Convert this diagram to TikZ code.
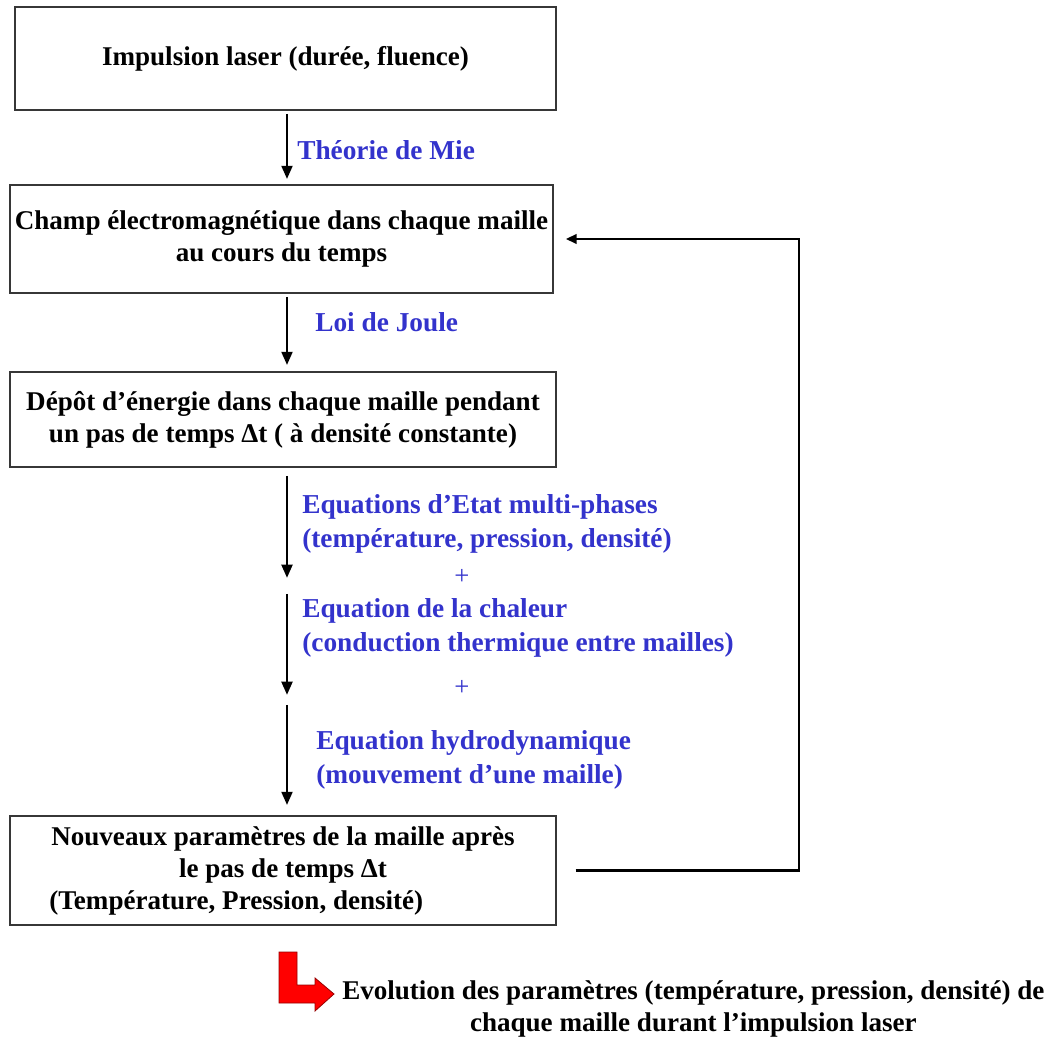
\documentclass[tikz,border=0pt]{standalone}
\usepackage{fontspec}
\setmainfont{Liberation Serif}
\usetikzlibrary{arrows.meta}
\definecolor{lblblue}{RGB}{51,51,204}
\definecolor{boxgray}{RGB}{55,55,55}
\definecolor{darkred}{RGB}{150,0,0}
\begin{document}
\begin{tikzpicture}[x=0.75pt,y=-0.75pt,
  box/.style={draw=boxgray,line width=1.3pt,inner sep=0pt,font=\bfseries\fontsize{20.3}{24}\selectfont,align=center},
  lbl/.style={text=lblblue,font=\bfseries\fontsize{20.5}{25.5}\selectfont,inner sep=0pt,anchor=west,align=left},
  plus/.style={text=lblblue,font=\fontsize{20}{24}\selectfont,inner sep=0pt},
  flow/.style={line width=2.2pt,-{Triangle[length=10pt,width=8pt]}},
  loopline/.style={line width=2.2pt,-{Triangle[length=8pt,width=7pt]}},
  bottomtext/.style={font=\bfseries\fontsize{20.3}{24}\selectfont,align=center,anchor=west,inner sep=0pt},
  redarrow/.style={draw=darkred,fill=red,line width=0.6pt,line join=miter}
]
\useasboundingbox (0,0) rectangle (1058,1037);

\node[box,minimum width=541*0.75pt,minimum height=103*0.75pt] (b1) at (285.5,58.5) {Impulsion laser (durée, fluence)};
\node[box,minimum width=543*0.75pt,minimum height=108*0.75pt] (b2) at (281.5,239) {Champ électromagnétique dans chaque maille\\au cours du temps};
\node[box,minimum width=546*0.75pt,minimum height=95*0.75pt] (b3) at (283,419.5) {Dépôt d’énergie dans chaque maille pendant\\un pas de temps Δt ( à densité constante)};
\node[box,minimum width=546*0.75pt,minimum height=109*0.75pt] (b4) at (283,870.5) {Nouveaux paramètres de la maille après\\le pas de temps Δt\\\hspace*{-3pt}\rlap{(Température, Pression, densité)}\hphantom{Nouveaux paramètres de la maille après}};

\coordinate (axis) at (287,0);
\coordinate (m1) at (287,578);
\coordinate (m2) at (287,594);
\coordinate (m3) at (287,695);
\coordinate (m4) at (287,705);
\coordinate (fb) at (799,0);

\draw[flow,shorten <=2.25pt,shorten >=3.75pt] (b1.south -| axis) -- (b2.north -| axis);
\draw[flow,shorten <=2.25pt,shorten >=4.5pt] (b2.south -| axis) -- (b3.north -| axis);
\draw[flow,shorten <=6pt] (b3.south -| axis) -- (m1);
\draw[flow] (m2) -- (m3);
\draw[flow,shorten >=7.5pt] (m4) -- (b4.north -| axis);

\draw[loopline,shorten <=14pt,shorten >=9pt] (b4.east) -- (b4.east -| fb) -- (b2.east -| fb) -- (b2.east);

\node[lbl] (t1) at (297,150) {Théorie de Mie};
\node[lbl] (t2) at (315,322) {Loi de Joule};
\node[lbl] (t3) at (302,524) {Equations d’Etat multi-phases\\(température, pression, densité)};
\node[plus] (p1) at (462,577) {+};
\node[lbl] (t4) at (302,627.5) {Equation de la chaleur\\(conduction thermique entre mailles)};
\node[plus] (p2) at (462,688) {+};
\node[lbl] (t5) at (316,759.5) {Equation hydrodynamique\\(mouvement d’une maille)};

\draw[redarrow] (279,952) -- (297,952) -- (297,985) -- (315,985) -- (315,978) -- (334,994) -- (315,1011) -- (315,1003) -- (279,1003) -- cycle;

\node[bottomtext] (ev) at (342,1009) {Evolution des paramètres (température, pression, densité) de\\chaque maille durant l’impulsion laser};
\end{tikzpicture}
\end{document}
